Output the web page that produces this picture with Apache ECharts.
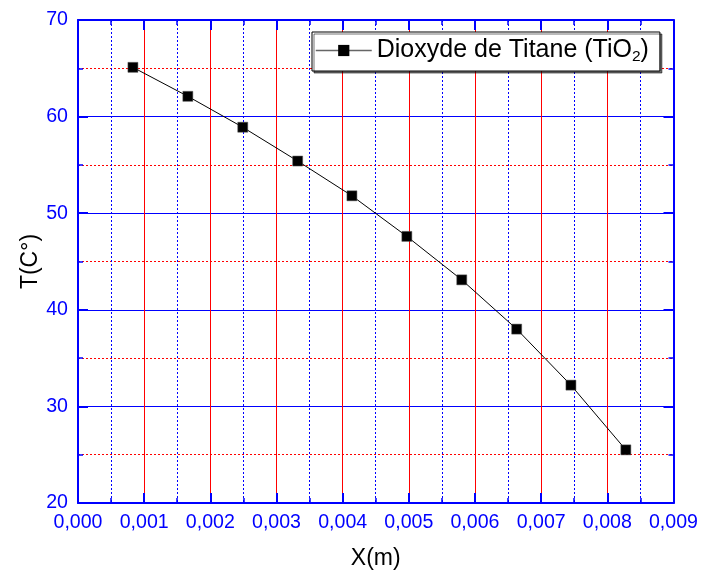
<!DOCTYPE html>
<html>
<head>
<meta charset="utf-8">
<script src="https://cdn.jsdelivr.net/npm/echarts@6/dist/echarts.min.js"></script>
<style>
html,body{margin:0;padding:0;background:#fff;}
#chart{width:701px;height:576px;}
</style>
</head>
<body>
<div id="chart"></div>
<script>
// Data
const xValues = [0.00083, 0.00166, 0.00249, 0.00332, 0.00414, 0.00497, 0.00580, 0.00663, 0.00745, 0.00828];
const tValues = [65.1, 62.1, 58.9, 55.4, 51.8, 47.6, 43.1, 38.0, 32.2, 25.5];
const seriesName = 'Dioxyde de Titane (TiO2)';
const xTitle = 'X(m)';
const yTitle = 'T(C°)';

const BLUE = '#0000FF';
const RED = '#FF0000';
const FONT = 'Liberation Sans, Arial, sans-serif';

const points = xValues.map((x, i) => [x, tValues[i]]);

const chart = echarts.init(document.getElementById('chart'), null, {renderer: 'canvas'});

const xBase = {
  type: 'value', min: 0, max: 0.009, interval: 0.001,
  axisLine: {show: true, onZero: false, lineStyle: {color: BLUE, width: 2}},
  axisTick: {show: true, inside: true, length: 10, lineStyle: {color: BLUE, width: 2}},
  minorTick: {show: true, splitNumber: 2, length: 5, lineStyle: {color: BLUE, width: 1.5}}
};
const yBase = {
  type: 'value', min: 20, max: 70, interval: 10,
  axisLine: {show: true, onZero: false, lineStyle: {color: BLUE, width: 2}},
  axisTick: {show: true, inside: true, length: 10, lineStyle: {color: BLUE, width: 2}},
  minorTick: {show: true, splitNumber: 2, length: 5, lineStyle: {color: BLUE, width: 1.5}}
};

chart.setOption({
  animation: false,
  backgroundColor: '#fff',
  grid: {left: 78, right: 27, top: 20, bottom: 73, containLabel: false},
  legend: {
    show: true,
    left: 312, top: 32,
    padding: [6, 11, 6, 3],
    itemWidth: 56, itemHeight: 14,
    itemGap: 0,
    borderColor: '#000', borderWidth: 1,
    backgroundColor: '#fff',
    shadowColor: 'rgba(0,0,0,0.55)', shadowOffsetX: 2, shadowOffsetY: 2, shadowBlur: 0,
    lineStyle: {color: '#666', width: 1.5},
    itemStyle: {color: '#000', borderWidth: 0},
    formatter: () => 'Dioxyde de Titane (TiO{sub|2})',
    textStyle: {
      fontFamily: FONT, fontSize: 25, color: '#000',
      rich: {sub: {fontFamily: FONT, fontSize: 15.5, color: '#000', verticalAlign: 'bottom', padding: [13, 0, 0, 0]}}
    },
    data: [seriesName]
  },
  xAxis: [
    Object.assign({}, xBase, {
      position: 'bottom',
      name: xTitle, nameLocation: 'middle', nameGap: 44, nameMoveOverlap: false,
      nameTextStyle: {fontFamily: FONT, fontSize: 23, color: '#000'},
      axisLabel: {show: true, margin: 10, color: BLUE, fontFamily: FONT, fontSize: 19.6,
        formatter: v => v.toFixed(3).replace('.', ',')},
      splitLine: {show: true, showMinLine: false, showMaxLine: false, lineStyle: {color: RED, width: 1, type: 'solid'}},
      minorSplitLine: {show: true, lineStyle: {color: BLUE, width: 1, type: [2, 2]}}
    }),
    Object.assign({}, xBase, {
      position: 'top',
      axisLabel: {show: false},
      splitLine: {show: false},
      minorSplitLine: {show: false}
    })
  ],
  yAxis: [
    Object.assign({}, yBase, {
      position: 'left',
      name: yTitle, nameLocation: 'middle', nameGap: 36, nameMoveOverlap: false,
      nameTextStyle: {fontFamily: FONT, fontSize: 23, color: '#000'},
      axisLabel: {show: true, margin: 10, color: BLUE, fontFamily: FONT, fontSize: 19.6},
      splitLine: {show: true, showMinLine: false, showMaxLine: false, lineStyle: {color: BLUE, width: 1, type: 'solid'}},
      minorSplitLine: {show: true, lineStyle: {color: RED, width: 1, type: [2, 2]}}
    }),
    Object.assign({}, yBase, {
      position: 'right',
      axisLabel: {show: false},
      splitLine: {show: false},
      minorSplitLine: {show: false}
    })
  ],
  series: [{
    name: seriesName,
    type: 'line',
    xAxisIndex: 0, yAxisIndex: 0,
    data: points,
    symbol: 'rect',
    symbolSize: 10,
    showAllSymbol: true,
    lineStyle: {color: '#000', width: 1},
    itemStyle: {color: '#000', borderColor: '#555', borderWidth: 0.5},
    z: 5
  }]
});
</script>
</body>
</html>
